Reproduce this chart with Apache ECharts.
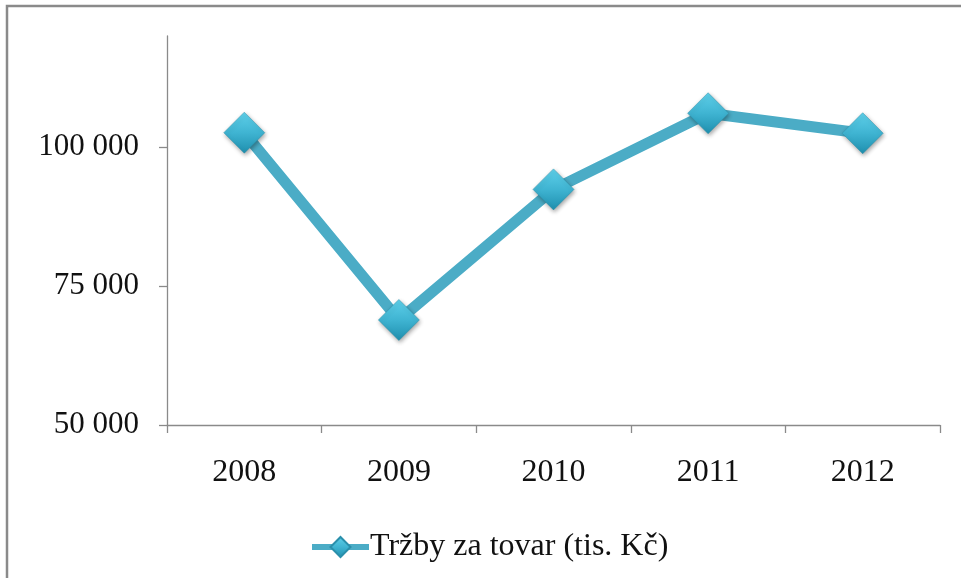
<!DOCTYPE html>
<html>
<head>
<meta charset="utf-8">
<script src="https://cdn.jsdelivr.net/npm/echarts@6/dist/echarts.min.js"></script>
<style>
  html, body { margin: 0; padding: 0; background: #fff; }
  #chart { width: 961px; height: 578px; }
</style>
</head>
<body>
<div id="chart"></div>
<script>
  // data
  let years = ['2008', '2009', '2010', '2011', '2012']
  let sales = [102600, 68900, 92400, 106100, 102500]
  let yTicks = [50000, 75000, 100000]
  let seriesName = 'Tržby za tovar (tis. Kč)'

  let font = 'Liberation Serif'
  let lineColor = '#4bacc6'

  // diamond fill, lighter on top like the excel bevel
  let markerFill = new echarts.graphic.LinearGradient(0, 0, 0, 1, [
    { offset: 0, color: '#5fd0ea' },
    { offset: 0.5, color: '#3fb4d2' },
    { offset: 1, color: '#1f8fae' }
  ])

  let chart = echarts.init(document.getElementById('chart'))
  chart.setOption({
    animation: false,
    backgroundColor: '#fff',
    graphic: [{
      type: 'rect',
      shape: { x: 7, y: 6, width: 1000, height: 1000 },
      style: { fill: 'none', stroke: '#8a8a8a', lineWidth: 2.5 },
      silent: true
    }],
    grid: { left: 167, right: 21, top: 36, bottom: 153 },
    legend: {
      bottom: 10,
      left: 304,
      itemWidth: 57,
      itemHeight: 25,
      itemGap: 0,
      lineStyle: { width: 6 },
      textStyle: { fontFamily: font, fontSize: 32, color: '#111', padding: [0, 0, 0, -4] },
      data: [seriesName]
    },
    xAxis: {
      type: 'category',
      data: years,
      boundaryGap: true,
      axisLine: { lineStyle: { color: '#8a8a8a', width: 1.3 } },
      axisTick: { show: true, length: 8, alignWithLabel: false, lineStyle: { color: '#8a8a8a', width: 1.3 } },
      axisLabel: { fontFamily: font, fontSize: 32, color: '#111', margin: 32 }
    },
    yAxis: {
      type: 'value',
      min: 50000,
      max: 120000,
      interval: 5000,
      axisLine: { show: true, lineStyle: { color: '#8a8a8a', width: 1.3 } },
      axisTick: { show: true, inside: false, length: 8, customValues: yTicks, lineStyle: { color: '#8a8a8a', width: 1.3 } },
      splitLine: { show: false },
      axisLabel: {
        customValues: yTicks,
        fontFamily: font,
        fontSize: 31,
        color: '#111',
        margin: 28,
        formatter: function (v) {
          return String(v).replace(/\B(?=(\d{3})+(?!\d))/g, ' ')
        }
      }
    },
    series: [{
      name: seriesName,
      type: 'line',
      data: sales,
      symbol: 'diamond',
      symbolSize: 41,
      lineStyle: { color: lineColor, width: 11 },
      itemStyle: {
        color: markerFill,
        borderColor: '#2a8fab',
        borderWidth: 0.5,
        shadowColor: 'rgba(0,0,0,0.35)',
        shadowBlur: 4,
        shadowOffsetX: 1,
        shadowOffsetY: 2
      }
    }]
  })
</script>
</body>
</html>
